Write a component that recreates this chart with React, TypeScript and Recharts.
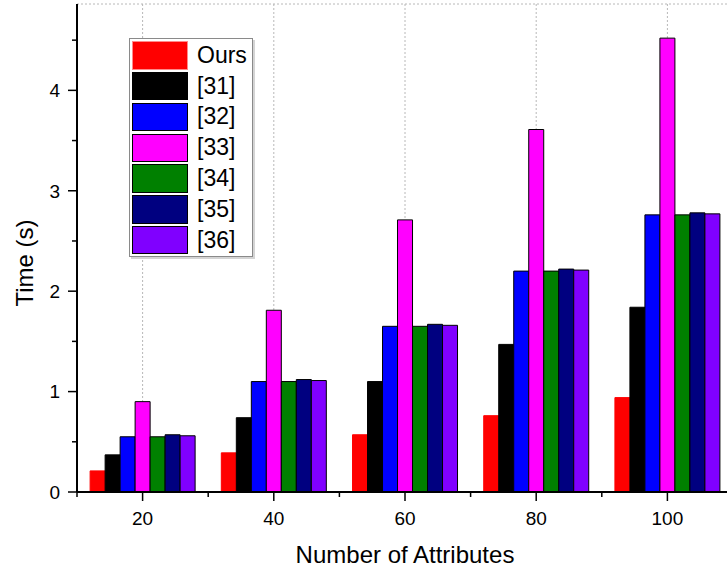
import React from "react";
import { BarChart, Bar, XAxis, YAxis, CartesianGrid, Legend } from "recharts";

const categories = [20, 40, 60, 80, 100];
const ours = [0.21, 0.39, 0.57, 0.76, 0.94];
const ref31 = [0.37, 0.74, 1.1, 1.47, 1.84];
const ref32 = [0.55, 1.1, 1.65, 2.2, 2.76];
const ref33 = [0.9, 1.81, 2.71, 3.61, 4.52];
const ref34 = [0.55, 1.1, 1.65, 2.2, 2.76];
const ref35 = [0.57, 1.12, 1.67, 2.22, 2.78];
const ref36 = [0.56, 1.11, 1.66, 2.21, 2.77];

const yTicks = [0, 0.5, 1, 1.5, 2, 2.5, 3, 3.5, 4, 4.5];
const yMajorTicks = [0, 1, 2, 3, 4];
const yMax = 4.86;

const FONT = "'Liberation Sans', Arial, sans-serif";

const series = [
  { key: "ours", name: "Ours", values: ours, fill: "#ff0000", stroke: "#ff0000" },
  { key: "r31", name: "[31]", values: ref31, fill: "#000000", stroke: "#000000" },
  { key: "r32", name: "[32]", values: ref32, fill: "#0000ff", stroke: "#000000" },
  { key: "r33", name: "[33]", values: ref33, fill: "#ff00ff", stroke: "#000000" },
  { key: "r34", name: "[34]", values: ref34, fill: "#008000", stroke: "#000000" },
  { key: "r35", name: "[35]", values: ref35, fill: "#000080", stroke: "#000000" },
  { key: "r36", name: "[36]", values: ref36, fill: "#8000ff", stroke: "#000000" },
];

const data = categories.map((c, i) => {
  const row: Record<string, number> = { attrs: c };
  series.forEach((s) => (row[s.key] = s.values[i]));
  return row;
});

// bottom axis: major tick + label, minor tick half a band to the left
function BottomTick(props: any) {
  const { x, y, payload, index, visibleTicksCount } = props;
  const half = payload.offset ?? 0;
  return (
    <g>
      <line x1={x} x2={x} y1={y} y2={y + 9} stroke="#000" strokeWidth={1.5} />
      <line x1={x - half} x2={x - half} y1={y} y2={y + 5} stroke="#000" strokeWidth={1.5} />
      {index === visibleTicksCount - 1 && (
        <line x1={x + half} x2={x + half} y1={y} y2={y + 5} stroke="#000" strokeWidth={1.5} />
      )}
      <text x={x} y={y + 20} dy="0.71em" textAnchor="middle" fontSize={19} fontFamily={FONT} fill="#000">
        {payload.value}
      </text>
    </g>
  );
}

function TopTick(props: any) {
  const { x, y, payload } = props;
  const half = payload.offset ?? 0;
  return (
    <g>
      <line x1={x} x2={x} y1={y} y2={y + 9} stroke="#000" strokeWidth={1.5} />
      <line x1={x - half} x2={x - half} y1={y} y2={y + 5} stroke="#000" strokeWidth={1.5} />
      <line x1={x + half} x2={x + half} y1={y} y2={y + 5} stroke="#000" strokeWidth={1.5} />
    </g>
  );
}

function LeftTick(props: any) {
  const { x, y, payload } = props;
  const major = Number.isInteger(payload.value);
  return (
    <g>
      <line x1={x - (major ? 9 : 5)} x2={x} y1={y} y2={y} stroke="#000" strokeWidth={1.5} />
      {major && (
        <text x={x - 17} y={y} dy="0.36em" textAnchor="end" fontSize={19} fontFamily={FONT} fill="#000">
          {payload.value}
        </text>
      )}
    </g>
  );
}

function RightTick(props: any) {
  const { x, y } = props;
  return <line x1={x - 9} x2={x} y1={y} y2={y} stroke="#000" strokeWidth={1.5} />;
}

function LegendBox() {
  return (
    <div
      style={{
        background: "#fff",
        border: "1px solid #8a8a8a",
        boxShadow: "2px 2px 0 #d4d4d4",
        padding: "1px 5px 0 2px",
        fontFamily: FONT,
        fontSize: 23,
        color: "#000",
      }}
    >
      {series.map((s) => (
        <div key={s.key} style={{ display: "flex", alignItems: "center", height: 30.8 }}>
          <div
            style={{
              boxSizing: "border-box",
              width: 56,
              height: 28.5,
              background: s.fill,
              border: `1.5px solid ${s.key === "ours" ? "#ff8a8a" : "#000"}`,
              marginRight: 9,
            }}
          />
          <span style={{ lineHeight: 1 }}>{s.name}</span>
        </div>
      ))}
    </div>
  );
}

export default function App() {
  return (
    <div
      style={{
        position: "absolute",
        left: 0,
        top: 0,
        width: 727,
        height: 573,
        overflow: "hidden",
        background: "#fff",
      }}
    >
      <BarChart
        width={760}
        height={573}
        data={data}
        margin={{ top: 4, right: 27, bottom: 0, left: 0 }}
        barGap={0}
        barCategoryGap="10%"
        style={{ fontFamily: FONT }}
      >
        <CartesianGrid yAxisId="right" stroke="#b8b8b8" strokeDasharray="2 2" />
        <XAxis
          dataKey="attrs"
          height={81}
          interval={0}
          tickSize={0}
          tickMargin={0}
          tickLine={false}
          tick={<BottomTick />}
          axisLine={{ stroke: "#000", strokeWidth: 2 }}
          label={{ value: "Number of Attributes", position: "insideBottom", offset: 10, fontSize: 24, fill: "#000" }}
        />
        <XAxis
          xAxisId="top"
          dataKey="attrs"
          orientation="top"
          height={0}
          mirror
          interval={0}
          tickSize={0}
          tickMargin={0}
          tickLine={false}
          tick={<TopTick />}
          axisLine={{ stroke: "#000", strokeWidth: 2 }}
        />
        <YAxis
          width={77}
          type="number"
          domain={[0, yMax]}
          ticks={yTicks}
          interval={0}
          tickSize={0}
          tickMargin={0}
          tickLine={false}
          tick={<LeftTick />}
          axisLine={{ stroke: "#000", strokeWidth: 2 }}
          label={{
            content: (p: any) => {
              const vb = p.viewBox;
              return (
                <text
                  transform={`translate(${vb.x + 33}, ${vb.y + vb.height / 2 + 15}) rotate(-90)`}
                  textAnchor="middle"
                  fontSize={24}
                  fontFamily={FONT}
                  fill="#000"
                >
                  Time (s)
                </text>
              );
            },
          }}
        />
        <YAxis
          yAxisId="right"
          orientation="right"
          width={0}
          mirror
          type="number"
          domain={[0, yMax]}
          ticks={yMajorTicks}
          interval={0}
          tickSize={0}
          tickMargin={0}
          tickLine={false}
          tick={<RightTick />}
          axisLine={{ stroke: "#000", strokeWidth: 2 }}
        />
        <Legend
          layout="vertical"
          align="center"
          verticalAlign="middle"
          wrapperStyle={{ left: 129, top: 38, width: "auto" }}
          content={<LegendBox />}
        />
        {series.map((s) => (
          <Bar
            key={s.key}
            dataKey={s.key}
            name={s.name}
            fill={s.fill}
            stroke={s.stroke}
            strokeWidth={1}
            isAnimationActive={false}
          />
        ))}
      </BarChart>
    </div>
  );
}
